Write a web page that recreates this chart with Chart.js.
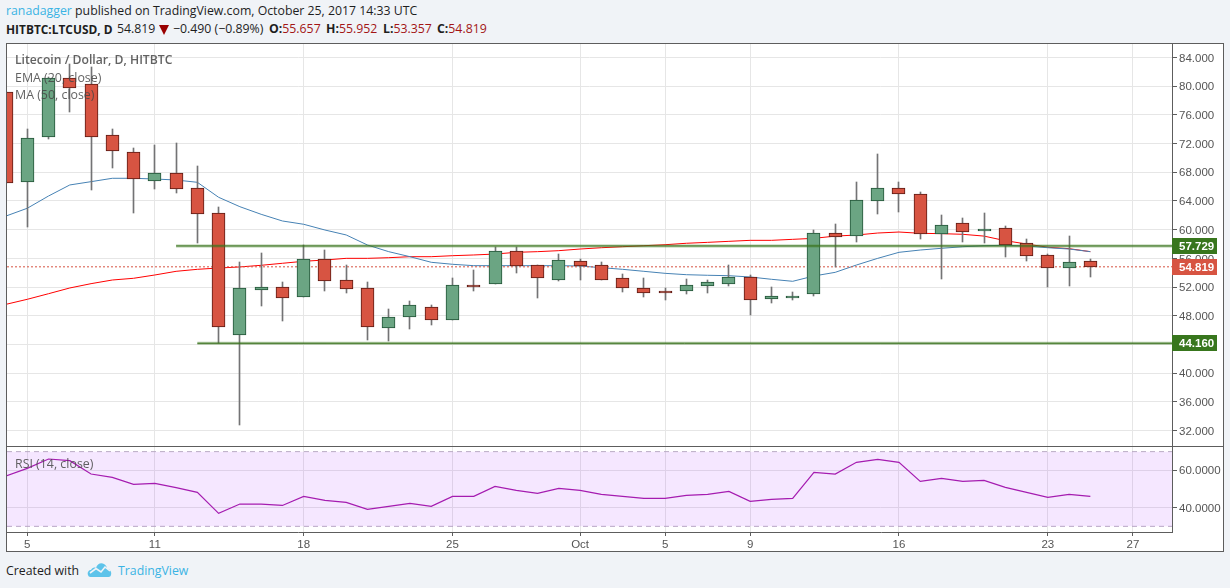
<!DOCTYPE html>
<html><head><meta charset="utf-8">
<script src="https://cdn.jsdelivr.net/npm/chart.js@4"></script>
<style>
html,body{margin:0;padding:0;background:#f0f3f7;width:1230px;height:588px;overflow:hidden}
body{position:relative;font-family:"Open Sans",sans-serif;color:#1e1e1e}
.t{position:absolute;white-space:nowrap;line-height:16px;font-size:12.3px}
#frame{position:absolute;left:6px;top:43px;width:1216px;height:507px;border:1px solid #5d5d5d;background:#fff}
#sep{position:absolute;left:7px;top:446px;width:1216px;height:1px;background:#5d5d5d;z-index:2}
canvas{position:absolute;display:block}
#cMain{left:7px;top:44px}
#cRsi{left:7px;top:447px}
.lg{position:absolute;white-space:nowrap;color:rgba(70,70,70,.85);font-size:12.4px;line-height:16px;z-index:3}
.r{color:#a31515}
</style></head><body>
<div class="t" style="left:6px;top:3px"><span style="color:#3bb3e4">ranadagger</span> published on TradingView.com, October 25, 2017 14:33 UTC</div>
<div class="t" style="left:6px;top:21px;font-size:11.9px"><b>HITBTC:LTCUSD, D</b></div>
<div class="t" style="left:117px;top:21px">54.819</div>
<svg style="position:absolute;left:159px;top:25px" width="11" height="10"><polygon points="0,0 10,0 5,10" fill="#990000"/></svg>
<div class="t" style="left:173px;top:21px">−0.490 (−0.89%)</div>
<div class="t" style="left:269px;top:21px"><b>O:</b><span class="r">55.657</span></div>
<div class="t" style="left:326px;top:21px"><b>H:</b><span class="r">55.952</span></div>
<div class="t" style="left:383px;top:21px"><b>L:</b><span class="r">53.357</span></div>
<div class="t" style="left:437px;top:21px"><b>C:</b><span class="r">54.819</span></div>

<div id="frame"></div>
<canvas id="cMain" width="1216" height="402"></canvas>
<div id="sep"></div>
<canvas id="cRsi" width="1216" height="104"></canvas>

<div class="lg" style="left:15px;top:52px;font-weight:600;font-size:12.2px">Litecoin / Dollar, D, HITBTC</div>
<div class="lg" style="left:15px;top:70px">EMA (20, close)</div>
<div class="lg" style="left:15px;top:87px">MA (50, close)</div>
<div class="lg" style="left:15px;top:456px">RSI (14, close)</div>

<div class="t" style="left:6px;top:563px">Created with</div>
<svg style="position:absolute;left:87px;top:562px" width="25" height="16" viewBox="0 0 25 16">
<path d="M1 13 C0 10 2 8 4 8 C5 6 7 5 9 6 C10 2 14 0 17 2 C19 3 20 5 20 7 C23 7 25 10 24 13 C23.5 15 22 15 20 15 L5 15 C3 15 1.500 15 1 13Z" fill="#5dc3ea"/>
<path d="M3 11 L9 6.500 L14 10 L18 5 L23 9" fill="none" stroke="#f0f3f7" stroke-width="1.600"/>
</svg>
<div class="t" style="left:118px;top:563px;color:#3bb3e4">TradingView</div>

<script>
const dates=['Sep 4','Sep 5','Sep 6','Sep 7','Sep 8','Sep 9','Sep 10','Sep 11','Sep 12','Sep 13','Sep 14','Sep 15','Sep 16','Sep 17','Sep 18','Sep 19','Sep 20','Sep 21','Sep 22','Sep 23','Sep 24','Sep 25','Sep 26','Sep 27','Sep 28','Sep 29','Sep 30','Oct 1','Oct 2','Oct 3','Oct 4','Oct 5','Oct 6','Oct 7','Oct 8','Oct 9','Oct 10','Oct 11','Oct 12','Oct 13','Oct 14','Oct 15','Oct 16','Oct 17','Oct 18','Oct 19','Oct 20','Oct 21','Oct 22','Oct 23','Oct 24','Oct 25'];
const opens=[79.15,66.69,72.96,81.10,80.26,73.15,70.78,66.83,67.86,65.77,62.28,45.27,51.63,51.96,50.65,55.87,52.94,51.82,46.25,47.78,49.17,47.36,52.24,52.38,56.98,55.03,53.02,55.59,55.03,53.22,51.82,51.49,51.49,52.19,52.47,53.36,50.29,50.65,50.99,59.49,59.07,63.95,65.77,64.93,59.35,60.88,59.77,60.19,58.18,56.42,54.61,55.657];
const highs=[79.15,74.03,81.30,83.05,82.63,74.03,71.34,71.80,72.08,68.87,63.12,55.49,56.75,52.70,57.82,57.16,55.07,52.70,48.94,50.05,49.50,53.26,54.38,57.62,57.62,55.03,56.61,55.91,55.49,53.82,53.26,51.87,53.12,52.98,55.07,53.68,52.00,51.31,59.95,60.79,66.64,70.55,66.64,65.25,62.00,61.62,62.32,60.51,58.70,56.60,59.12,55.952];
const lows=[66.46,60.41,72.68,76.44,65.53,68.64,62.36,65.71,65.15,58.18,44.16,32.81,49.36,47.27,50.65,51.49,51.21,44.62,44.48,46.15,46.71,47.36,51.49,52.38,54.00,50.51,52.84,52.98,53.02,51.31,50.61,50.19,51.07,51.21,52.15,48.10,49.82,50.24,50.79,54.84,58.32,62.23,62.50,58.74,53.16,58.32,58.18,56.23,55.67,52.05,52.19,53.357];
const closes=[66.46,72.74,81.10,79.79,72.87,71.01,67.02,67.86,65.63,62.14,46.39,51.82,51.96,50.51,55.87,52.88,51.77,46.39,47.78,49.45,47.36,52.24,52.10,56.98,54.98,53.30,55.73,54.98,53.02,51.91,51.21,51.30,52.24,52.66,53.36,50.15,50.71,50.79,59.49,59.02,64.09,65.77,64.93,59.35,60.60,59.63,60.05,57.90,56.29,54.61,55.45,54.819];
const emaLine=[61.90,62.98,64.69,66.23,66.69,67.16,67.16,67.06,66.92,66.60,64.51,63.20,62.14,61.21,60.75,59.95,59.26,57.86,56.93,56.23,55.45,55.17,54.98,54.98,54.98,54.98,54.98,54.93,54.70,54.47,54.19,53.91,53.72,53.64,53.58,53.40,53.08,52.80,53.54,54.05,55.07,56.00,56.84,57.16,57.40,57.62,57.76,57.82,57.72,57.48,57.30,56.93];
const maLine=[49.59,50.29,51.07,51.87,52.47,52.98,53.22,53.68,54.19,54.47,54.65,54.80,55.03,55.31,55.59,55.77,56.00,56.00,56.09,56.23,56.23,56.37,56.47,56.60,56.84,56.93,57.07,57.30,57.48,57.62,57.76,57.90,58.10,58.23,58.37,58.51,58.51,58.65,58.79,59.10,59.25,59.53,59.67,59.49,59.44,59.35,59.10,58.46,58.00,57.54,57.35,56.93];
const rsiLine=[56.95,61.05,66.05,65.16,58.00,56.23,52.50,53.00,50.70,48.20,36.95,41.95,41.95,41.20,46.06,43.90,42.84,39.10,40.70,42.30,40.70,46.06,46.06,51.41,49.27,47.66,50.34,49.27,47.13,46.06,44.99,44.99,46.59,47.13,48.74,43.38,44.45,44.99,58.91,58.02,64.27,65.88,64.27,54.09,55.70,54.09,54.63,50.88,48.20,45.52,47.13,46.06];
const dateTickIndex=[1,7,14,21,27,31,35,42,49,53];
const dateTickLabels=['5','11','18','25','Oct','5','9','16','23','27'];
const priceTicks=[32,36,40,44,48,52,56,60,64,68,72,76,80,84];
const rsiTicks=[40,60];
const levelHigh=57.729, levelLow=44.160, lastPrice=54.819;
const levelHighFrom=8, levelLowFrom=9;
const rsiUpper=70, rsiLower=30;

const XMIN=0.047, XMAX=54.84, N=dates.length;
const xVals=dates.map((_,i)=>i);
const GRID='#e6e6e6', AXIS='#5d5d5d', TXT='#555555', FONT='"Liberation Sans",Arial,sans-serif';
const UP='#6ba583',UPB='#225437',DN='#d75442',DNB='#5b1a13';
const isUp=closes.map((c,i)=>c>=opens[i]);

const hLine=(y,from,color,w,order,dash)=>({type:'line',data:[{x:from,y},{x:XMAX,y}],borderColor:color,borderWidth:w,pointRadius:0,order,borderDash:dash||[],tension:0});
const noPad=s=>{s.paddingTop=0;s.paddingBottom=0;s.paddingLeft=0;s.paddingRight=0;};

const snap={id:'snap',beforeDatasetsDraw(ch){
  ch.getSortedVisibleDatasetMetas().forEach(m=>{ if(m.type!=='bar')return;
    m.data.forEach(el=>{
      el.x=Math.floor(el.x)+0.5;
      el.y=Math.round(el.y); el.base=Math.round(el.base);
      if(Math.abs(el.y-el.base)<2) el.base=el.y+2;
      el.height=el.base-el.y;
    });
  });
}};
const badges={id:'badges',afterDraw(ch){
  const s=ch.scales.y,c=ch.ctx,x=ch.chartArea.right;
  [[levelHigh,'#38761d'],[lastPrice,'#d75442'],[levelLow,'#38761d']].forEach(([v,col])=>{
    const y=Math.round(s.getPixelForValue(v));
    c.fillStyle=col;c.fillRect(x,y-8,45,16);
    c.fillStyle='#fff';c.font='bold 11.500px '+FONT;c.textAlign='left';c.textBaseline='middle';
    c.fillText(v.toFixed(3),x+7,y+0.5);
  });
}};
const xScale=(display)=>({type:'linear',min:XMIN,max:XMAX,offset:false,
  grid:{offset:false,color:GRID,drawTicks:display,tickLength:4,tickColor:AXIS},
  border:{display:display,color:AXIS},
  afterBuildTicks(s){s.ticks=dateTickIndex.map(v=>({value:v}));},
  ticks:{display,autoSkip:false,maxRotation:0,minRotation:0,padding:2,color:TXT,font:{family:FONT,size:11.5},
    callback:(v)=>{const k=dateTickIndex.indexOf(v);return k<0?'':dateTickLabels[k];}},
  afterFit(s){s.height=display?19:0;noPad(s);}
});
const yScale=(min,max,ticks,dec)=>({type:'linear',position:'right',min,max,
  grid:{color:GRID,tickColor:AXIS,tickLength:5},
  border:{color:AXIS},
  afterBuildTicks(s){s.ticks=ticks.map(v=>({value:v}));},
  ticks:{color:TXT,padding:2,labelOffset:1,font:{family:FONT,size:11.5},callback:v=>Number(v).toFixed(dec)},
  afterFit(s){s.width=51;noPad(s);}
});
const common={responsive:false,animation:false,devicePixelRatio:1,layout:{padding:0},
  events:[],plugins:{legend:{display:false},tooltip:{enabled:false}}};

new Chart(document.getElementById('cMain'),{
  type:'bar',
  data:{datasets:[
    {type:'line',data:xVals.map(i=>({x:i,y:emaLine[i]})),borderColor:'#4682b4',borderWidth:1,pointRadius:0,order:5,tension:0},
    {type:'line',data:xVals.map(i=>({x:i,y:maLine[i]})),borderColor:'#ff0000',borderWidth:1,pointRadius:0,order:5,tension:0},
    hLine(lastPrice,XMIN,'#d75442',1,4,[2,2]),
    {type:'bar',grouped:false,data:xVals.map(i=>({x:i,y:[lows[i],highs[i]]})),backgroundColor:'#737375',borderWidth:0,barThickness:1,order:3},
    {type:'bar',grouped:false,data:xVals.map(i=>({x:i,y:[opens[i],closes[i]]})),
      backgroundColor:isUp.map(u=>u?UP:DN),borderColor:isUp.map(u=>u?UPB:DNB),borderWidth:1,borderSkipped:false,barThickness:13,order:2},
    hLine(levelHigh,levelHighFrom,'rgba(60,125,30,.4)',3,1),
    hLine(levelHigh,levelHighFrom,'#3a701e',1,0),
    hLine(levelLow,levelLowFrom,'rgba(60,125,30,.4)',3,1),
    hLine(levelLow,levelLowFrom,'#3a701e',1,0)
  ]},
  options:{...common,scales:{x:xScale(false),y:yScale(29.84,85.88,priceTicks,3)}},
  plugins:[snap,badges]
});

new Chart(document.getElementById('cRsi'),{
  type:'line',
  data:{datasets:[
    {data:xVals.map(i=>({x:i,y:rsiLine[i]})),borderColor:'#a51cb0',borderWidth:1.2,pointRadius:0,order:0,tension:0},
    {data:[{x:XMIN,y:rsiUpper},{x:XMAX,y:rsiUpper}],borderColor:'#b9aac4',borderWidth:1,borderDash:[5,4],pointRadius:0,order:1,
      fill:{target:{value:rsiLower},above:'rgba(153,21,255,.1)',below:'rgba(153,21,255,.1)'}},
    {data:[{x:XMIN,y:rsiLower},{x:XMAX,y:rsiLower}],borderColor:'#b9aac4',borderWidth:1,borderDash:[5,4],pointRadius:0,order:1}
  ]},
  options:{...common,scales:{x:xScale(true),y:yScale(26.98,72.48,rsiTicks,4)}}
});
</script>
</body></html>
